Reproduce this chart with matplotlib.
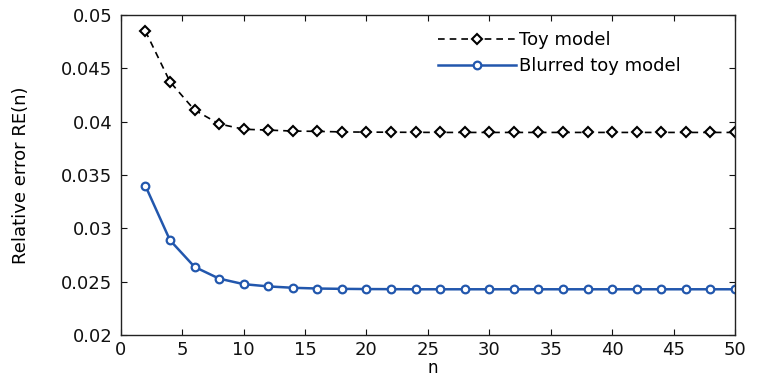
import matplotlib
matplotlib.use('Agg')
import matplotlib.pyplot as plt
import numpy as np

# data
n = np.arange(2, 51, 2)
toy = [0.0485, 0.04375, 0.0411, 0.0398, 0.0393, 0.03922, 0.03913, 0.0391, 0.03905,
       0.03903, 0.03902, 0.03901, 0.039, 0.039, 0.039, 0.039, 0.039, 0.039,
       0.039, 0.039, 0.039, 0.039, 0.039, 0.039, 0.039]
blurred = [0.0340, 0.0289, 0.0264, 0.0253, 0.02478, 0.02457, 0.02444, 0.02437, 0.02434,
           0.02432, 0.02431, 0.0243, 0.0243, 0.0243, 0.0243, 0.0243, 0.0243, 0.0243,
           0.0243, 0.0243, 0.0243, 0.0243, 0.0243, 0.0243, 0.0243]
labels = ['Toy model', 'Blurred toy model']

blue = '#2257ad'

fig = plt.figure(figsize=(7.6, 3.77), dpi=100)
ax = fig.add_axes([0.159, 0.111, 0.808, 0.849])

ax.plot(n, toy, '--', color='black', lw=1.2, marker='D', ms=5,
        mfc='white', mec='black', mew=1.5, dashes=(4, 3), label=labels[0])
ax.plot(n, blurred, '-', color=blue, lw=1.8, marker='o', ms=5.5,
        mfc='white', mec=blue, mew=1.6, label=labels[1])

ax.set_xlim(0, 50)
ax.set_ylim(0.02, 0.05)
ax.set_xticks(np.arange(0, 51, 5))
ax.set_yticks(np.arange(0.02, 0.0501, 0.005))
ax.set_yticklabels(['0.02', '0.025', '0.03', '0.035', '0.04', '0.045', '0.05'])

ax.tick_params(direction='in', top=True, right=True, length=4, width=0.8,
               labelsize=13, pad=6, colors='#111111')
ax.tick_params(axis='x', pad=4)
for s in ax.spines.values():
    s.set_linewidth(1.0)
    s.set_color('#222222')

ax.set_xlabel('n', fontsize=12)
ax.xaxis.set_label_coords(0.508, -0.073)
ax.xaxis.label.set_va('top')
ax.set_ylabel('Relative error RE(n)', fontsize=13)
ax.yaxis.set_label_coords(-0.148, 0.5)

leg = ax.legend(loc='upper left', bbox_to_anchor=(0.49, 1.0), frameon=False,
                fontsize=13, handlelength=4.3, handletextpad=0.2, labelspacing=0.45)

fig.savefig('out.png', dpi=100)
